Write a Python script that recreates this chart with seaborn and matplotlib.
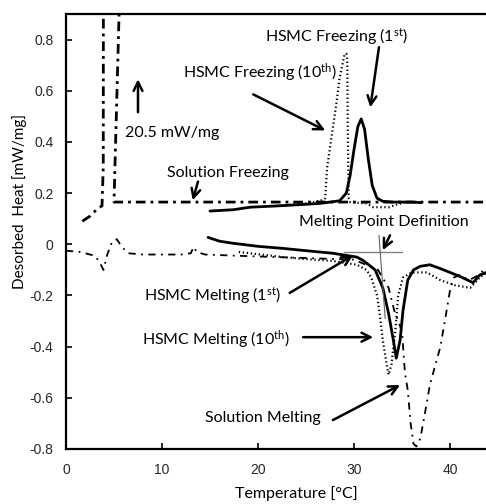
import numpy as np
import pandas as pd
import matplotlib
matplotlib.use("Agg")
import matplotlib.pyplot as plt
import seaborn as sns

# ---------------- data ----------------
sol_frz_x = [1.7, 2.5, 3.3, 3.75, 3.88, 4.3, 5.6, 5.0, 5.3, 10, 20, 30, 40, 43.8]
sol_frz_y = [0.09, 0.11, 0.14, 0.15, 0.3, 20.5, 1.0, 0.165, 0.165, 0.165, 0.165, 0.165, 0.165, 0.165]

sol_mlt_x = [0, 1.5, 3.0, 3.5, 3.9, 4.3, 4.8, 5.3, 5.8, 6.5, 8, 10, 12, 13.0, 13.3, 13.6, 14.5,
             18, 22, 26, 30, 32.5, 33.6, 34.2, 35.0, 35.3, 35.6, 35.9, 36.2, 36.5, 36.9, 37.3,
             37.9, 39.0, 39.6, 40.0, 40.4, 41, 42, 43, 43.8]
sol_mlt_y = [-0.025, -0.03, -0.045, -0.07, -0.1, -0.04, 0.01, 0.02, -0.01, -0.035, -0.04, -0.04,
             -0.04, -0.035, -0.01, -0.03, -0.04, -0.045, -0.05, -0.055, -0.06, -0.1, -0.17, -0.26,
             -0.34, -0.5, -0.57, -0.7, -0.78, -0.79, -0.76, -0.68, -0.55, -0.4, -0.27, -0.18, -0.13,
             -0.12, -0.14, -0.12, -0.09]

frz1_x = [15, 17.4, 19.2, 22, 24.4, 26.5, 28.5, 29.2, 29.6, 30.0, 30.4, 30.75, 31.1, 31.5, 31.9,
          32.4, 33, 34, 35, 36, 37]
frz1_y = [0.13, 0.135, 0.145, 0.15, 0.155, 0.16, 0.17, 0.2, 0.27, 0.37, 0.46, 0.49, 0.45, 0.33,
          0.23, 0.18, 0.168, 0.165, 0.165, 0.165, 0.163]

frz10_x = [22, 25, 26.5, 27.0, 27.2, 27.7, 28.2, 28.5, 29.0, 29.2, 29.3, 29.35, 29.45, 29.6, 30.5,
           31.3, 32.0, 33.7, 34.4, 35.4, 36.5]
frz10_y = [0.15, 0.16, 0.17, 0.18, 0.30, 0.43, 0.56, 0.65, 0.74, 0.745, 0.72, 0.45, 0.18, 0.165,
           0.162, 0.16, 0.145, 0.145, 0.155, 0.165, 0.165]

mlt1_x = [14.8, 16, 17.4, 20, 22.6, 25, 27.8, 30.3, 30.9, 31.7, 32.2, 33.0, 33.6, 34.1, 34.4,
          34.8, 35.1, 35.6, 36.2, 36.9, 37.9, 39, 40, 41, 42.4, 43.1, 43.8]
mlt1_y = [0.027, 0.012, 0.004, -0.008, -0.016, -0.025, -0.035, -0.05, -0.062, -0.085, -0.1,
          -0.17, -0.27, -0.375, -0.445, -0.375, -0.26, -0.14, -0.1, -0.086, -0.08, -0.095, -0.11,
          -0.125, -0.15, -0.12, -0.11]

mlt10_x = [18, 22.6, 25, 27.8, 30.3, 31.3, 31.8, 32.4, 32.7, 33.0, 33.4, 33.6, 33.9, 34.3, 34.6,
           35.1, 36.0, 37.6, 39, 40.5, 42.1, 43.1, 43.8]
mlt10_y = [-0.03, -0.05, -0.058, -0.065, -0.08, -0.1, -0.13, -0.2, -0.28, -0.375, -0.47, -0.51,
           -0.47, -0.34, -0.2, -0.13, -0.11, -0.11, -0.14, -0.16, -0.17, -0.13, -0.11]

mpd_h_x = [29.0, 35.0]
mpd_h_y = [-0.032, -0.032]
mpd_t_x = [32.6, 33.25]
mpd_t_y = [0.035, -0.29]

x_ticks = [0, 10, 20, 30, 40]
y_ticks = [-0.8, -0.6, -0.4, -0.2, 0, 0.2, 0.4, 0.6, 0.8]
y_tick_labels = ["-0.8", "-0.6", "-0.4", "-0.2", "0", "0.2", "0.4", "0.6", "0.8"]

# ---------------- style ----------------
sns.set_theme(style="white")
TXT = "Lato"
plt.rcParams["font.family"] = [TXT, "DejaVu Sans"]
plt.rcParams["mathtext.fontset"] = "custom"
plt.rcParams["mathtext.rm"] = TXT
plt.rcParams["mathtext.it"] = TXT

fig = plt.figure(figsize=(4.86, 5.04), dpi=100)
ax = fig.add_axes([66 / 486, 55 / 504, 420 / 486, 435 / 504])


def line(x, y, **kw):
    df = pd.DataFrame({"x": x, "y": y})
    sns.lineplot(data=df, x="x", y="y", ax=ax, sort=False, estimator=None,
                 color="black", legend=False, **kw)


line(sol_frz_x, sol_frz_y, lw=2.0, dashes=(3.5, 1.8, 1.0, 1.8))
line(sol_mlt_x, sol_mlt_y, lw=1.3, dashes=(4, 3, 1, 3))
line(frz10_x, frz10_y, lw=1.6, dashes=(0.6, 1.2))
line(mlt10_x, mlt10_y, lw=1.6, dashes=(0.6, 1.2))
line(frz1_x, frz1_y, lw=2.0)
line(mlt1_x, mlt1_y, lw=2.0)
ax.plot(mpd_h_x, mpd_h_y, color="#808080", lw=1.0)
ax.plot(mpd_t_x, mpd_t_y, color="#606060", lw=0.8)

ax.set_xlim(0, 43.75)
ax.set_ylim(-0.8, 0.9)
ax.set_xticks(x_ticks)
ax.set_xticklabels([str(t) for t in x_ticks], family="Liberation Sans", fontsize=10)
ax.set_yticks(y_ticks)
ax.set_yticklabels(y_tick_labels, family="Liberation Sans", fontsize=10)
ax.tick_params(direction="in", length=4, width=1.2, color="black",
               left=True, bottom=True)
ax.tick_params(axis="x", pad=10)
ax.tick_params(axis="y", pad=9)
for s in ["left", "bottom", "top"]:
    ax.spines[s].set_color("black")
    ax.spines[s].set_linewidth(1.6)
ax.spines["right"].set_visible(False)

ax.set_xlabel("Temperature [°C]", fontsize=11.5, color="black")
ax.set_ylabel("Desorbed  Heat [mW/mg]", fontsize=11, color="black")
ax.xaxis.set_label_coords(0.548, -0.086)
ax.yaxis.set_label_coords(-0.093, 0.57)

fs = 11.5
arrow = dict(arrowstyle="->", lw=1.8, color="black", shrinkA=0, shrinkB=0,
             mutation_scale=16)


def note(text, tx, ty, ha="center"):
    ax.text(tx, ty, text, fontsize=fs, ha=ha, va="center", color="black")


def arr(x0, y0, x1, y1):
    ax.annotate("", xy=(x1, y1), xytext=(x0, y0), arrowprops=arrow)


note("HSMC Freezing (1$^{\\rm st}$)", 28.2, 0.81)
arr(32.6, 0.77, 31.7, 0.535)
note("HSMC Freezing (10$^{\\rm th}$)", 20.2, 0.672)
arr(19.5, 0.586, 27.0, 0.445)
arr(7.5, 0.516, 7.5, 0.645)
note("20.5 mW/mg", 6.15, 0.434, ha="left")
note("Solution Freezing", 10.5, 0.277, ha="left")
arr(13.75, 0.245, 13.2, 0.172)
note("Melting Point Definition", 33.07, 0.086)
arr(33.75, 0.035, 33.0, -0.023)
note("HSMC Melting (1$^{\\rm st}$)", 15.26, -0.2)
arr(23.3, -0.19, 29.9, -0.043)
note("HSMC Melting (10$^{\\rm th}$)", 15.6, -0.371)
arr(24.7, -0.363, 32.0, -0.363)
note("Solution Melting", 20.5, -0.68)
arr(27.8, -0.687, 34.8, -0.55)

fig.savefig("out.png", dpi=100)
